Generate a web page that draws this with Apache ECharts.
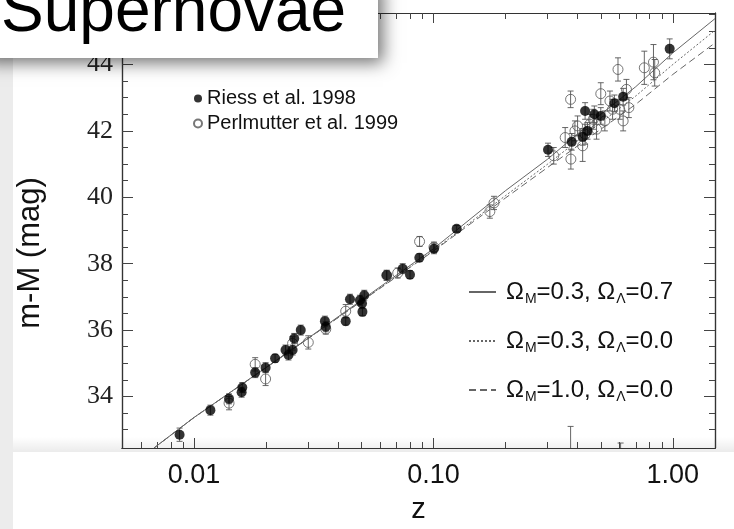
<!DOCTYPE html>
<html><head><meta charset="utf-8">
<script src="https://cdn.jsdelivr.net/npm/echarts@6/dist/echarts.min.js"></script>
<style>html,body{margin:0;padding:0;background:#fff}#c{width:734px;height:529px}</style>
</head><body><div id="c"></div>
<script>
// ---- data ----
const riessZ   = [0.0087,0.0117,0.0140,0.0158,0.0159,0.0180,0.0199,0.0218,0.0241,0.0248,0.0258,0.0262,0.0279,0.0352,0.0355,0.0430,0.0448,0.0493,0.0514,0.0503,0.0505,0.0638,0.0744,0.0798,0.0873,0.1005,0.125,0.301,0.378,0.42,0.44,0.43,0.47,0.50,0.57,0.62,0.97];
const riessM   = [32.85,33.59,33.93,34.13,34.27,34.72,34.87,35.15,35.40,35.25,35.40,35.75,36.00,36.27,36.10,36.27,36.93,36.90,37.05,36.80,36.55,37.65,37.85,37.67,38.18,38.45,39.05,41.43,41.67,41.82,42.00,42.60,42.50,42.45,42.83,43.03,44.47];
const riessErr = [0.20,0.15,0.15,0.15,0.15,0.15,0.15,0.12,0.15,0.15,0.15,0.15,0.15,0.15,0.15,0.12,0.15,0.15,0.15,0.15,0.12,0.15,0.15,0.12,0.12,0.15,0.10,0.20,0.25,0.25,0.25,0.25,0.25,0.25,0.25,0.25,0.30];

const perlZ   = [0.0140,0.0180,0.0199,0.0258,0.0300,0.0355,0.0430,0.0638,0.0709,0.0875,0.1005,0.172,0.179,0.318,0.355,0.374,0.375,0.390,0.400,0.420,0.430,0.450,0.465,0.480,0.500,0.520,0.546,0.560,0.590,0.600,0.620,0.640,0.655,0.760,0.830,0.840,0.374,0.605];
const perlM   = [33.80,34.97,34.53,35.60,35.63,36.03,36.57,37.65,37.72,38.67,38.50,39.57,39.83,41.25,41.80,42.95,41.15,42.00,42.15,41.55,41.90,42.20,42.35,42.05,43.12,42.30,42.90,42.65,43.85,42.65,42.30,43.25,42.70,43.90,44.07,43.75,31.90,32.00];
const perlErr = [0.20,0.20,0.20,0.20,0.20,0.15,0.20,0.15,0.15,0.15,0.15,0.20,0.20,0.25,0.30,0.25,0.30,0.30,0.30,0.47,0.30,0.30,0.30,0.30,0.33,0.30,0.30,0.30,0.35,0.30,0.30,0.30,0.30,0.50,0.53,0.40,1.20,0.60];

const modelZ = [0.0068,0.01,0.03,0.1,0.2,0.3,0.5,0.7,1.0,1.5];
const modelA = [32.45,33.37,35.76,38.45,40.20,41.15,42.50,43.33,44.35,45.38]; // ΩM=0.3, ΩΛ=0.7
const modelB = [32.45,33.37,35.75,38.40,40.05,41.00,42.25,43.05,44.00,45.03]; // ΩM=0.3, ΩΛ=0.0
const modelC = [32.45,33.37,35.75,38.38,39.98,40.90,42.05,42.80,43.70,44.65]; // ΩM=1.0, ΩΛ=0.0

const xMajor = [0.01,0.1,1];
const xMinor = [0.006,0.007,0.008,0.009,0.02,0.03,0.04,0.05,0.06,0.07,0.08,0.09,0.2,0.3,0.4,0.5,0.6,0.7,0.8,0.9];
const yMajor = [34,36,38,40,42,44];
const yMinor = [33,33.5,34.5,35,35.5,36.5,37,37.5,38.5,39,39.5,40.5,41,41.5,42.5,43,43.5,44.5,45,45.5];

const modelNames = ['ΩM=0.3, ΩΛ=0.7','ΩM=0.3, ΩΛ=0.0','ΩM=1.0, ΩΛ=0.0'];
const seriesNames = ['Riess et al. 1998','Perlmutter et al. 1999'];
const titleText = 'Supernovae';

// ---- chart ----
const X0 = 0.005, X1 = 1.5, Y0 = 32.45, Y1 = 45.55;
const zip2 = (a,b) => a.map((v,i)=>[v,b[i]]);
const errData = (z,m,e) => z.map((v,i)=>[v, m[i]-e[i], m[i]+e[i]]);
const axisCol = '#333';

function xAx(pos, ticks, len, labels) {
  return {
    type:'log', logBase:10, min:X0, max:X1, position:pos,
    axisLine:{show:true, onZero:false, lineStyle:{color:axisCol, width:1.2}},
    axisTick:{show:true, inside:true, length:len, customValues:ticks, lineStyle:{color:'#444', width:1}},
    axisLabel: labels ? {show:true, customValues:xMajor, formatter:v=>Number(v).toFixed(2),
      fontFamily:'Liberation Sans, Arial', fontSize:27, color:'#111', margin:14} : {show:false},
    splitLine:{show:false}, minorTick:{show:false},
    name: labels ? 'z' : '', nameLocation:'middle', nameGap:47,
    nameTextStyle:{fontFamily:'Liberation Sans, Arial', fontSize:29, color:'#111'}
  };
}
function yAx(pos, ticks, len, labels) {
  return {
    type:'value', min:Y0, max:Y1, position:pos,
    axisLine:{show:true, onZero:false, lineStyle:{color:axisCol, width:1.2}},
    axisTick:{show:true, inside:true, length:len, customValues:ticks, lineStyle:{color:'#444', width:1}},
    axisLabel: labels ? {show:true, customValues:yMajor, fontFamily:'Liberation Serif, Times New Roman, serif',
      fontSize:26, color:'#222', margin:9} : {show:false},
    splitLine:{show:false}
  };
}

function errRender(params, api) {
  const p1 = api.coord([api.value(0), api.value(1)]);
  const p2 = api.coord([api.value(0), api.value(2)]);
  const w = 3;
  const st = {stroke:'#555', lineWidth:0.9};
  return {type:'group', children:[
    {type:'line', shape:{x1:p1[0],y1:p1[1],x2:p2[0],y2:p2[1]}, style:st},
    {type:'line', shape:{x1:p1[0]-w,y1:p1[1],x2:p1[0]+w,y2:p1[1]}, style:st},
    {type:'line', shape:{x1:p2[0]-w,y1:p2[1],x2:p2[0]+w,y2:p2[1]}, style:st}
  ]};
}

function rich(name) {
  let out = '';
  for (let i = 0; i < name.length; i++) {
    const ch = name[i];
    if (ch === 'Ω' && i + 1 < name.length) { out += '{t|Ω}{s|' + name[i+1] + '}'; i++; }
    else {
      let j = i; let seg = '';
      while (j < name.length && name[j] !== 'Ω') { seg += name[j]; j++; }
      out += '{t|' + seg + '}'; i = j - 1;
    }
  }
  return out;
}

const lineCol = '#666';
const chart = echarts.init(document.getElementById('c'), null, {renderer:'canvas'});
chart.setOption({
  animation:false,
  backgroundColor:'#ffffff',
  grid:{left:122, right:19, top:13, bottom:79, containLabel:false},
  xAxis:[xAx('bottom', xMajor, 10, true), xAx('bottom', xMinor, 6, false), xAx('top', xMajor, 10, false), xAx('top', xMinor, 6, false)],
  yAxis:[yAx('left', yMajor, 11, true), yAx('left', yMinor, 6, false), yAx('right', yMajor, 11, false), yAx('right', yMinor, 6, false)],
  legend:[
    {data:seriesNames, orient:'vertical', left:188, top:82, itemWidth:8, itemHeight:8, itemGap:2,
     textStyle:{fontFamily:'Liberation Sans, Arial', fontSize:20, color:'#111', lineHeight:23, padding:[0,0,0,0]}},
    {data:modelNames, orient:'vertical', left:463, top:273, itemWidth:27, itemHeight:14, itemGap:21,
     itemStyle:{opacity:0, color:'rgba(0,0,0,0)', borderWidth:0},
     formatter: n => rich(n),
     textStyle:{padding:[0,0,0,5], rich:{
       t:{fontFamily:'Liberation Sans, Arial', fontSize:24, color:'#111', lineHeight:30},
       s:{fontFamily:'Liberation Sans, Arial', fontSize:14, color:'#111', lineHeight:15, padding:[14,0,0,1]}
     }}}
  ],
  series:[
    {name:modelNames[0], type:'line', data:zip2(modelZ, modelA), showSymbol:false, symbol:'none',
     itemStyle:{color:lineCol}, lineStyle:{color:lineCol, width:1, type:'solid'}, z:1, clip:true},
    {name:modelNames[1], type:'line', data:zip2(modelZ, modelB), showSymbol:false, symbol:'none',
     itemStyle:{color:lineCol}, lineStyle:{color:lineCol, width:1, type:[2,2]}, z:1, clip:true},
    {name:modelNames[2], type:'line', data:zip2(modelZ, modelC), showSymbol:false, symbol:'none',
     itemStyle:{color:lineCol}, lineStyle:{color:lineCol, width:1, type:[7,4]}, z:1, clip:true},
    {type:'custom', renderItem:errRender, data:errData(perlZ, perlM, perlErr), encode:{x:0, y:[1,2]}, clip:true, z:2, silent:true},
    {type:'custom', renderItem:errRender, data:errData(riessZ, riessM, riessErr), encode:{x:0, y:[1,2]}, clip:true, z:2, silent:true},
    {name:seriesNames[1], type:'scatter', data:zip2(perlZ, perlM), symbol:'circle', symbolSize:10, clip:true, z:3,
     itemStyle:{color:'rgba(255,255,255,0)', borderColor:'#555', borderWidth:1}},
    {name:seriesNames[0], type:'scatter', data:zip2(riessZ, riessM), symbol:'circle', symbolSize:10, clip:true, z:4,
     itemStyle:{color:'#000'}}
  ],
  graphic:[
    {type:'rect', left:0, top:0, shape:{width:13, height:529}, style:{fill:'#ececec'}, z:-10},
    {type:'rect', x:13, y:437, shape:{width:721, height:15}, silent:true, z:-5,
     style:{fill:new echarts.graphic.LinearGradient(0,0,0,1,[{offset:0,color:'rgba(0,0,0,0)'},{offset:1,color:'rgba(0,0,0,0.08)'}])}},
    {type:'rect', x:-20, y:-20, shape:{width:398, height:78}, style:{fill:'#fff', shadowBlur:16, shadowColor:'rgba(0,0,0,0.55)', shadowOffsetX:5, shadowOffsetY:5}, z:100},
    {type:'text', x:1, y:13, style:{text:titleText, font:'64px "Liberation Sans", Arial', fill:'#000', verticalAlign:'middle', align:'left'}, z:101},
    {type:'text', x:30, y:253, rotation:Math.PI/2, style:{text:'m-M (mag)', font:'31px "Liberation Sans", Arial', fill:'#111', align:'center', verticalAlign:'middle'}, z:5}
  ]
});
</script></body></html>
